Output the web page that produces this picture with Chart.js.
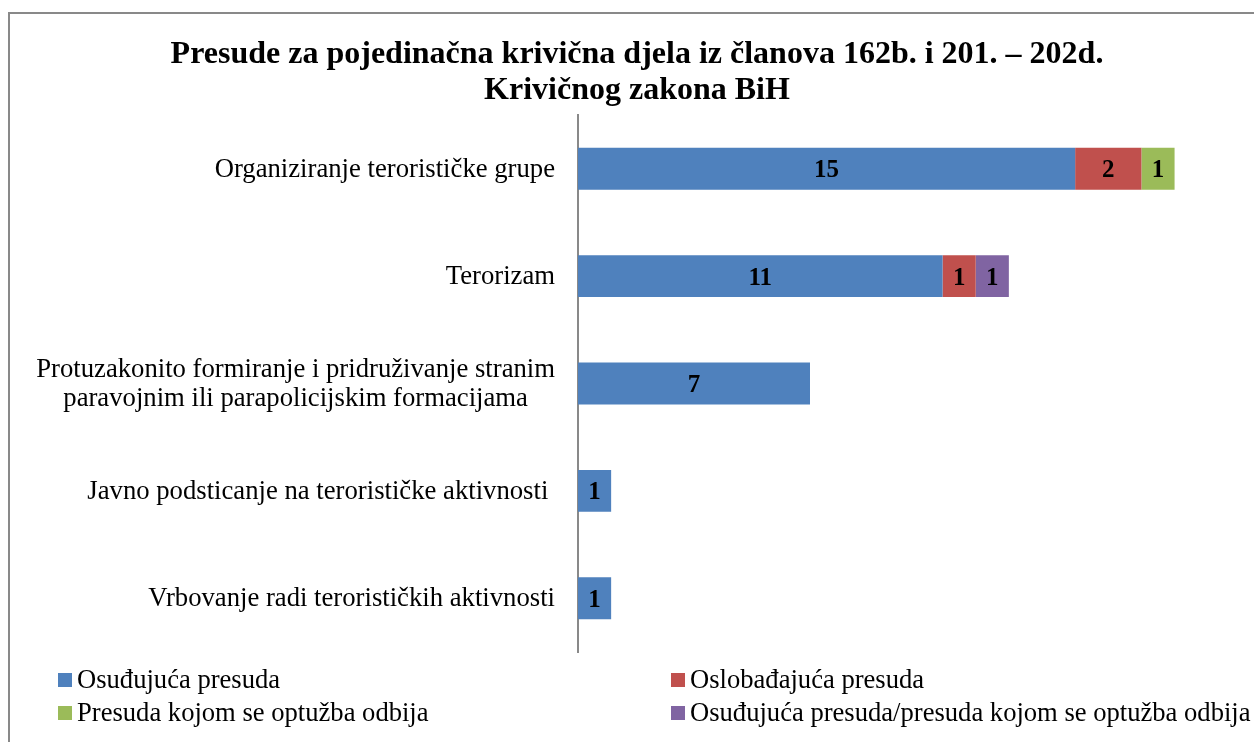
<!DOCTYPE html>
<html>
<head>
<meta charset="utf-8">
<script src="https://cdn.jsdelivr.net/npm/chart.js@4"></script>
<style>
  html, body { margin: 0; padding: 0; background: #fff; overflow: hidden; }
  #frame {
    position: absolute; left: 8px; top: 12px; width: 1400px; height: 900px;
    border-top: 2px solid #898989; border-left: 2px solid #898989;
  }
  #judgements-graph { position: absolute; left: 0; top: 0; }
</style>
</head>
<body>
<div id="frame"></div>
<canvas id="judgements-graph" width="1274" height="742"></canvas>
<script>
const titleLines = [
    'Presude za pojedinačna krivična djela iz članova 162b. i 201. – 202d.',
    'Krivičnog zakona BiH'
];
const categories = [
    'Organiziranje terorističke grupe',
    'Terorizam',
    ['Protuzakonito formiranje i pridruživanje stranim', 'paravojnim ili parapolicijskim formacijama'],
    'Javno podsticanje na terorističke aktivnosti ',
    'Vrbovanje radi terorističkih aktivnosti'
];
const seriesNames = [
    'Osuđujuća presuda',
    'Oslobađajuća presuda',
    'Presuda kojom se optužba odbija',
    'Osuđujuća presuda/presuda kojom se optužba odbija'
];
const osudjujuca = [15, 11, 7, 1, 1];
const oslobadjajuca = [2, 1, 0, 0, 0];
const optuzbaOdbija = [1, 0, 0, 0, 0];
const osudjujucaOdbija = [0, 1, 0, 0, 0];
const seriesColors = ['#4F81BD', '#C0504D', '#9BBB59', '#8064A2'];

const serif = "'Liberation Serif', 'Times New Roman', serif";

// values in the middle of each segment
const valueLabels = {
    id: 'valueLabels',
    afterDatasetsDraw(chart) {
        const ctx = chart.ctx;
        ctx.save();
        ctx.font = 'bold 25px ' + serif;
        ctx.fillStyle = '#000';
        ctx.textAlign = 'center';
        ctx.textBaseline = 'middle';
        chart.data.datasets.forEach((ds, di) => {
            const meta = chart.getDatasetMeta(di);
            meta.data.forEach((bar, i) => {
                const v = ds.data[i];
                if (!v) return;
                const p = bar.getProps(['x', 'y', 'base'], true);
                ctx.fillText(String(v), (p.x + p.base) / 2, p.y + 2);
            });
        });
        ctx.restore();
    }
};

// category names, lines centred inside a right aligned block
const categoryLabels = {
    id: 'categoryLabels',
    afterDraw(chart) {
        const ctx = chart.ctx;
        const yScale = chart.scales.y;
        const right = chart.chartArea.left - 23;
        const lineH = 29;
        ctx.save();
        ctx.font = '26.7px ' + serif;
        ctx.fillStyle = '#000';
        ctx.textAlign = 'center';
        ctx.textBaseline = 'middle';
        chart.data.labels.forEach((lbl, i) => {
            const lines = Array.isArray(lbl) ? lbl : [lbl];
            const block = Math.max(...lines.map(l => ctx.measureText(l).width));
            const cx = right - block / 2;
            const y0 = yScale.getPixelForTick(i) - (lines.length - 1) * lineH / 2;
            lines.forEach((l, k) => ctx.fillText(l, cx, y0 + k * lineH + 1));
        });
        ctx.restore();
    }
};

// two column legend at the bottom
const gridLegend = {
    id: 'gridLegend',
    afterDraw(chart) {
        const ctx = chart.ctx;
        const cols = [58, 671];
        const rows = [680, 713];
        ctx.save();
        ctx.font = '26.6px ' + serif;
        ctx.textBaseline = 'middle';
        ctx.textAlign = 'left';
        chart.data.datasets.forEach((ds, i) => {
            const x = cols[i % 2];
            const y = rows[Math.floor(i / 2)];
            ctx.fillStyle = ds.backgroundColor;
            ctx.fillRect(x, y - 7, 14, 14);
            ctx.fillStyle = '#000';
            ctx.fillText(ds.label, x + 19, y + 1);
        });
        ctx.restore();
    }
};

const ctx = document.getElementById('judgements-graph').getContext('2d');
const judgementsChart = new Chart(ctx, {
    type: 'bar',
    data: {
        labels: categories,
        datasets: [
            { label: seriesNames[0], data: osudjujuca, backgroundColor: seriesColors[0] },
            { label: seriesNames[1], data: oslobadjajuca, backgroundColor: seriesColors[1] },
            { label: seriesNames[2], data: optuzbaOdbija, backgroundColor: seriesColors[2] },
            { label: seriesNames[3], data: osudjujucaOdbija, backgroundColor: seriesColors[3] }
        ]
    },
    options: {
        responsive: false,
        animation: false,
        devicePixelRatio: 1,
        indexAxis: 'y',
        datasets: {
            bar: { barPercentage: 0.39, categoryPercentage: 1.0 }
        },
        layout: {
            padding: { left: 0, right: 0, top: 0, bottom: 90 }
        },
        scales: {
            x: {
                stacked: true,
                min: 0,
                max: 21,
                display: false
            },
            y: {
                stacked: true,
                grid: { display: false, drawTicks: false },
                border: { display: true, color: '#898989', width: 2 },
                ticks: { display: false },
                afterFit: (scale) => { scale.width = 578; }
            }
        },
        plugins: {
            legend: { display: false },
            tooltip: { enabled: false },
            title: {
                display: true,
                text: titleLines,
                color: '#000',
                font: { family: serif, size: 32, weight: 'bold', lineHeight: 1.125 },
                padding: { top: 37, bottom: 6 }
            }
        }
    },
    plugins: [valueLabels, categoryLabels, gridLegend]
});
</script>
</body>
</html>
